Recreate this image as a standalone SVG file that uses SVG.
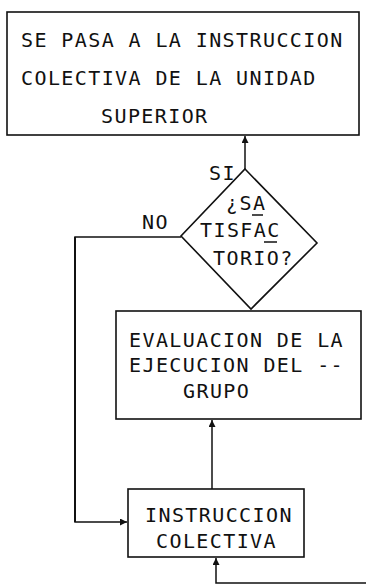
<svg xmlns="http://www.w3.org/2000/svg" width="366" height="584" viewBox="0 0 366 584">
<style>
.box{fill:#fff;stroke:#111;stroke-width:1.6}
.t{font-family:"DejaVu Sans Mono","Liberation Mono",monospace;font-size:20px;letter-spacing:1.4px;fill:#111}
.c{fill:none;stroke:#111;stroke-width:1.5}
.mark{stroke:#111;stroke-width:1.5}
</style>
<defs>
<marker id="ah" viewBox="0 0 10 10" refX="10" refY="5" markerWidth="7" markerHeight="7" orient="auto" markerUnits="userSpaceOnUse">
<path d="M0,0 L10,5 L0,10 z" fill="#111"/>
</marker>
</defs>
<rect x="0" y="0" width="366" height="584" fill="#fff"/>
<g id="connectors">
<path class="c" d="M245,169 V136" marker-end="url(#ah)"/>
<path class="c" d="M181,237 H75 V522 H127" marker-end="url(#ah)"/>
<path class="c" style="stroke-width:2" d="M75,237 V522"/>
<path class="c" d="M212,489 V420" marker-end="url(#ah)"/>
<path class="c" d="M366,583 H216 V558" marker-end="url(#ah)"/>
</g>
<g id="superior">
<rect class="box" x="7" y="12" width="352" height="123"/>
<text class="t" x="21" y="47">SE PASA A LA INSTRUCCION</text>
<text class="t" x="21" y="85">COLECTIVA DE LA UNIDAD</text>
<text class="t" x="101" y="123">SUPERIOR</text>
</g>
<g id="decision">
<polygon class="box" points="245,169 317,243 251,309 181,236"/>
<text class="t" x="226" y="210">¿SA</text>
<text class="t" x="200" y="237">TISFAC</text>
<text class="t" x="213" y="265">TORIO?</text>
<line class="mark" x1="252" y1="215" x2="263" y2="215"/>
<line class="mark" x1="264" y1="242" x2="277" y2="242"/>
<text class="t" x="209" y="180">SI</text>
<text class="t" x="142" y="229">NO</text>
</g>
<g id="evaluacion">
<rect class="box" x="116" y="311" width="245" height="108"/>
<text class="t" x="129" y="347">EVALUACION DE LA</text>
<text class="t" x="129" y="372">EJECUCION DEL --</text>
<text class="t" x="183" y="398">GRUPO</text>
</g>
<g id="instruccion">
<rect class="box" x="128" y="489" width="176" height="68"/>
<text class="t" x="145" y="522">INSTRUCCION</text>
<text class="t" x="156" y="548">COLECTIVA</text>
</g>
</svg>
